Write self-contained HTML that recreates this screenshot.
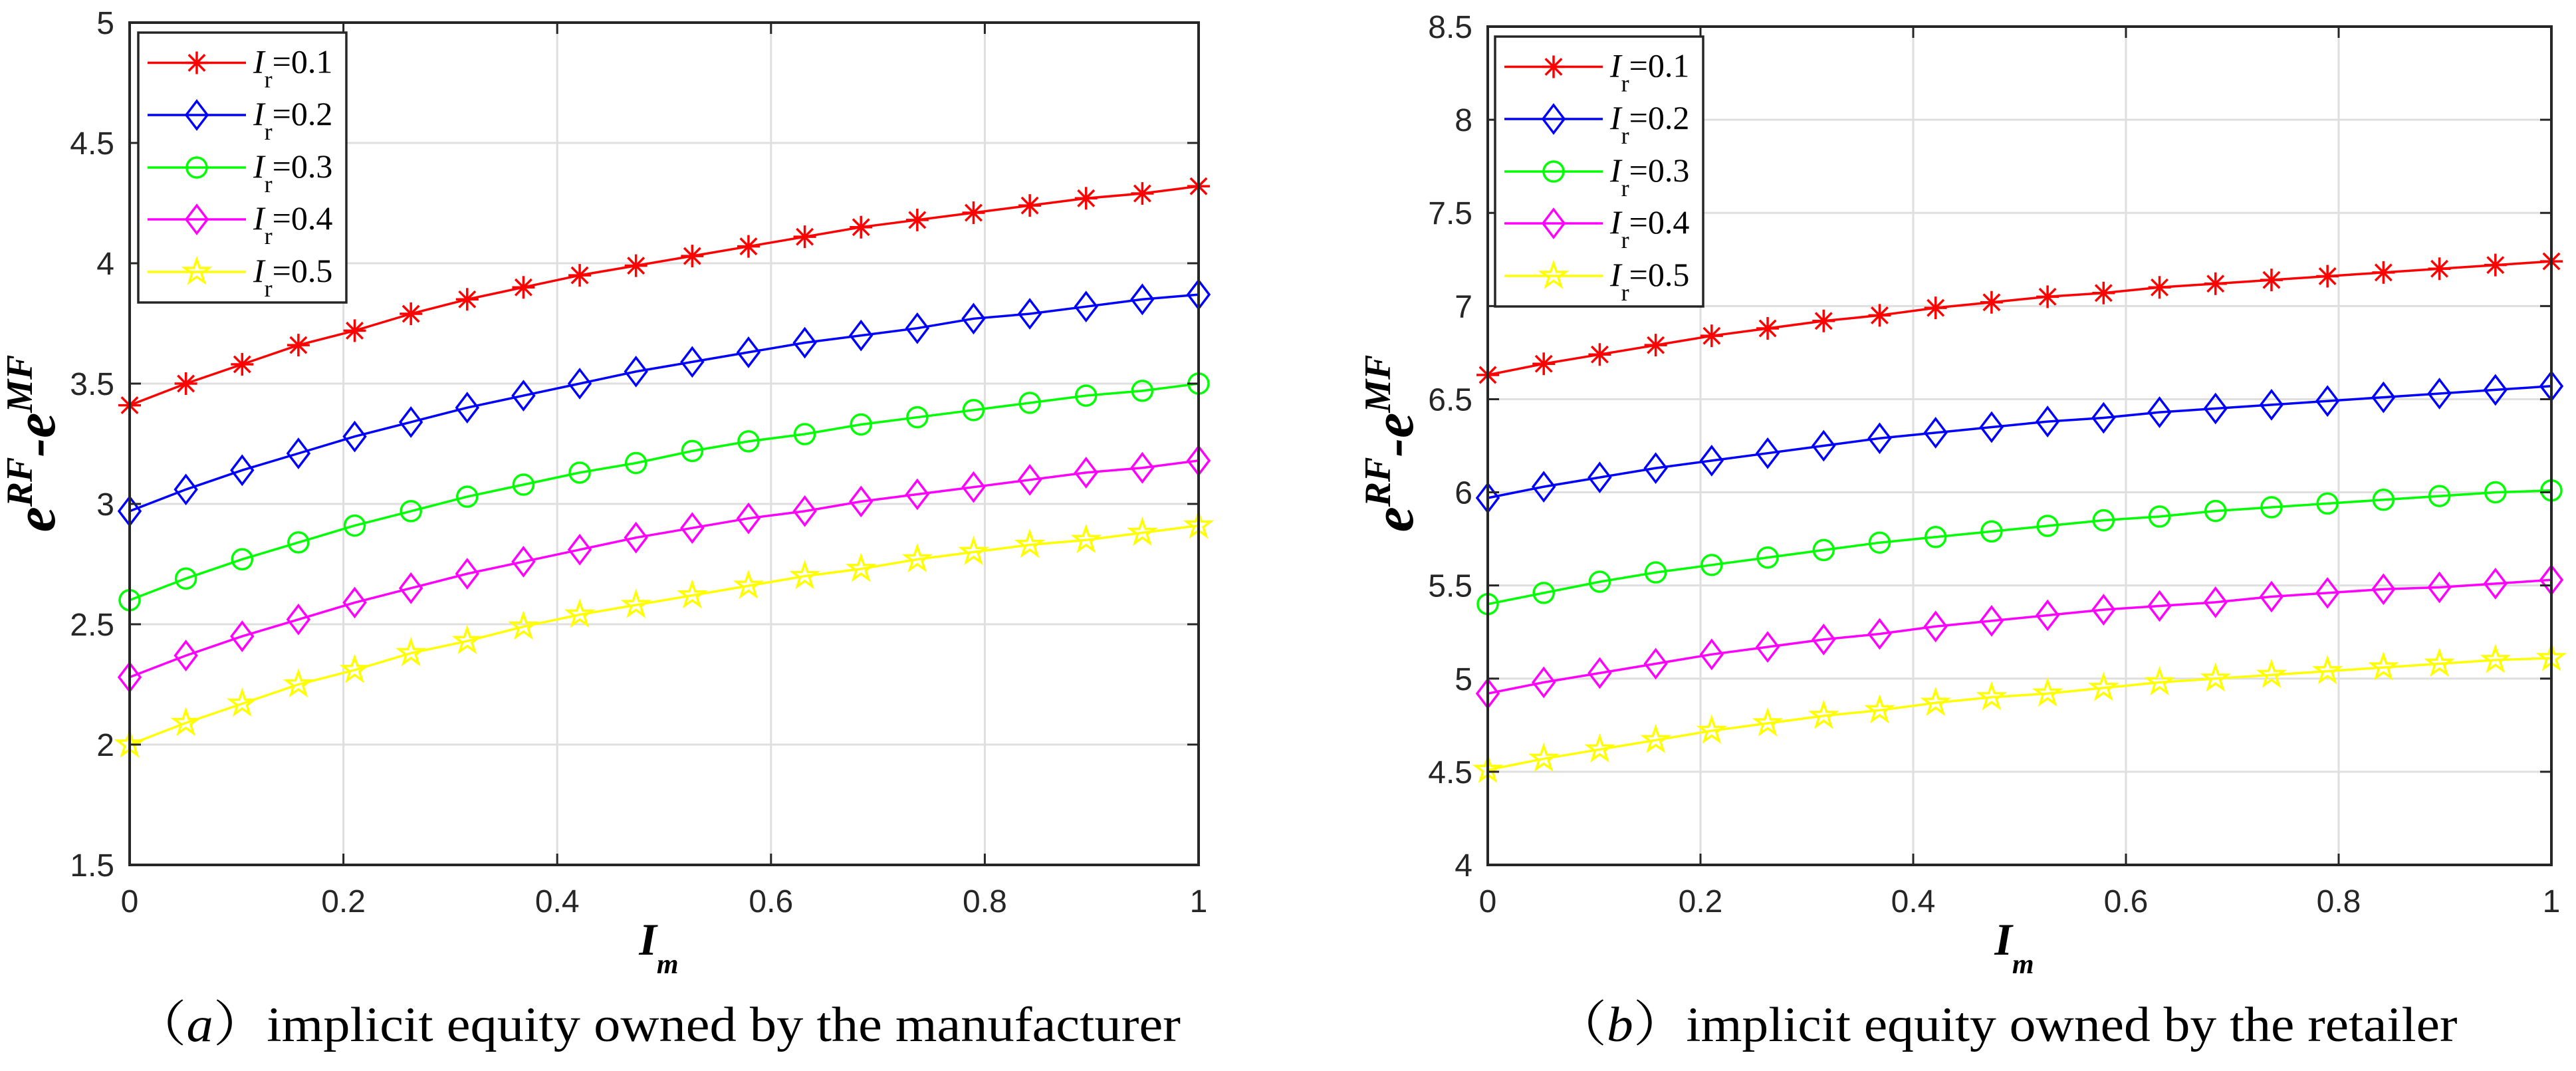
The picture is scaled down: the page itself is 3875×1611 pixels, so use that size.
<!DOCTYPE html>
<html><head><meta charset="utf-8"><style>
html,body{margin:0;padding:0;background:#fff;}
svg{display:block;}
</style></head><body>
<svg id="fig" width="3875" height="1611" viewBox="0 0 3875 1611" xmlns="http://www.w3.org/2000/svg"></svg>
<script>
const xValues = [0,1,2,3,4,5,6,7,8,9,10,11,12,13,14,15,16,17,18,19].map(i=>i/19);
const xTicks = [0,0.2,0.4,0.6,0.8,1];
const xTickLabels = ["0","0.2","0.4","0.6","0.8","1"];
const seriesLabels = ["0.1","0.2","0.3","0.4","0.5"];
const yTicksA = [1.5,2,2.5,3,3.5,4,4.5,5];
const yTickLabelsA = ["1.5","2","2.5","3","3.5","4","4.5","5"];
const yTicksB = [4,4.5,5,5.5,6,6.5,7,7.5,8,8.5];
const yTickLabelsB = ["4","4.5","5","5.5","6","6.5","7","7.5","8","8.5"];
const a_r01 = [3.41,3.50,3.58,3.66,3.72,3.79,3.85,3.90,3.95,3.99,4.03,4.07,4.11,4.15,4.18,4.21,4.24,4.27,4.29,4.32];
const a_r02 = [2.97,3.06,3.14,3.21,3.28,3.34,3.40,3.45,3.50,3.55,3.59,3.63,3.67,3.70,3.73,3.77,3.79,3.82,3.85,3.87];
const a_r03 = [2.60,2.69,2.77,2.84,2.91,2.97,3.03,3.08,3.13,3.17,3.22,3.26,3.29,3.33,3.36,3.39,3.42,3.45,3.47,3.50];
const a_r04 = [2.28,2.37,2.45,2.52,2.59,2.65,2.71,2.76,2.81,2.86,2.90,2.94,2.97,3.01,3.04,3.07,3.10,3.13,3.15,3.18];
const a_r05 = [2.00,2.09,2.17,2.25,2.31,2.38,2.43,2.49,2.54,2.58,2.62,2.66,2.70,2.73,2.77,2.80,2.83,2.85,2.88,2.91];
const b_r01 = [6.63,6.69,6.74,6.79,6.84,6.88,6.92,6.95,6.99,7.02,7.05,7.07,7.10,7.12,7.14,7.16,7.18,7.20,7.22,7.24];
const b_r02 = [5.97,6.03,6.08,6.13,6.17,6.21,6.25,6.29,6.32,6.35,6.38,6.40,6.43,6.45,6.47,6.49,6.51,6.53,6.55,6.57];
const b_r03 = [5.40,5.46,5.52,5.57,5.61,5.65,5.69,5.73,5.76,5.79,5.82,5.85,5.87,5.90,5.92,5.94,5.96,5.98,6.00,6.01];
const b_r04 = [4.92,4.98,5.03,5.08,5.13,5.17,5.21,5.24,5.28,5.31,5.34,5.37,5.39,5.41,5.44,5.46,5.48,5.49,5.51,5.53];
const b_r05 = [4.51,4.57,4.62,4.67,4.72,4.76,4.80,4.83,4.87,4.90,4.92,4.95,4.98,5.00,5.02,5.04,5.06,5.08,5.10,5.11];

const NS="http://www.w3.org/2000/svg";
const svg=document.getElementById('fig');
const colors=["#ff0000","#0000ff","#00ff00","#ff00ff","#ffff00"];
const markers=["asterisk","diamond","circle","diamond","pentagram"];
const dark="#262626";
function el(tag,attrs,parent){const e=document.createElementNS(NS,tag);for(const k in attrs)e.setAttribute(k,attrs[k]);(parent||svg).appendChild(e);return e;}

function marker(g,type,x,y,c){
  let m;
  if(type==="asterisk"){
    const r=17;let d=`M${x-r},${y}L${x+r},${y}M${x},${y-r}L${x},${y+r}`;
    const q=r*0.72;d+=`M${x-q},${y-q}L${x+q},${y+q}M${x-q},${y+q}L${x+q},${y-q}`;
    m=el('path',{d:d,stroke:c,'stroke-width':3.5,fill:'none'},g);
  }else if(type==="diamond"){
    m=el('path',{d:`M${x},${y-21}L${x+16},${y}L${x},${y+21}L${x-16},${y}Z`,stroke:c,'stroke-width':3.5,fill:'none'},g);
  }else if(type==="circle"){
    m=el('circle',{cx:x,cy:y,r:15,stroke:c,'stroke-width':3.5,fill:'none'},g);
  }else{
    let pts=[];for(let i=0;i<10;i++){const a=-Math.PI/2+i*Math.PI/5;const r=i%2?7.5:19;pts.push((x+r*Math.cos(a)).toFixed(1)+','+(y+r*Math.sin(a)).toFixed(1));}
    m=el('polygon',{points:pts.join(' '),stroke:c,'stroke-width':3.5,fill:'none'},g);
  }
  
  
}

function panel(id,L,R,T,B,ymin,ymax,yTicks,yTickLabels,series,leg,caption,capX,capW,ylabX){
  const g=el('g',{});
  
  
  const sx=v=>L+(R-L)*v;
  const sy=v=>B-(B-T)*(v-ymin)/(ymax-ymin);
  xTicks.forEach(t=>{const l=el('line',{x1:sx(t),x2:sx(t),y1:T,y2:B,stroke:'#dfdfdf','stroke-width':3},g);});
  yTicks.forEach(t=>{const l=el('line',{x1:L,x2:R,y1:sy(t),y2:sy(t),stroke:'#dfdfdf','stroke-width':3},g);});
  series.forEach((s,si)=>{
    const sg=el('g',{},g);
    
    
    const pts=s.map((v,i)=>sx(xValues[i]).toFixed(1)+','+sy(v).toFixed(1)).join(' ');
    const pl=el('polyline',{points:pts,stroke:colors[si],'stroke-width':3.5,fill:'none'},sg);
    
    
    s.forEach((v,i)=>marker(sg,markers[si],sx(xValues[i]),sy(v),colors[si]));
  });
  const box=el('rect',{x:L,y:T,width:R-L,height:B-T,fill:'none',stroke:dark,'stroke-width':4},g);
  
  
  xTicks.forEach((t,i)=>{
    el('line',{x1:sx(t),x2:sx(t),y1:B,y2:B-17,stroke:dark,'stroke-width':3},g);
    el('line',{x1:sx(t),x2:sx(t),y1:T,y2:T+17,stroke:dark,'stroke-width':3},g);
    const tx=el('text',{x:sx(t),y:1372,'text-anchor':'middle','font-family':'Liberation Sans, sans-serif','font-size':48,fill:dark},g);
    tx.textContent=xTickLabels[i];
    
    
  });
  yTicks.forEach((t,i)=>{
    el('line',{x1:L,x2:L+17,y1:sy(t),y2:sy(t),stroke:dark,'stroke-width':3},g);
    el('line',{x1:R,x2:R-17,y1:sy(t),y2:sy(t),stroke:dark,'stroke-width':3},g);
    const tx=el('text',{x:L-23,y:sy(t)+17,'text-anchor':'end','font-family':'Liberation Sans, sans-serif','font-size':48,fill:dark},g);
    tx.textContent=yTickLabels[i];
    
    
  });
  const lg=el('g',{},g);
  
  
  el('rect',{x:leg.x,y:leg.y,width:313,height:406,fill:'#fff',stroke:dark,'stroke-width':3.5},lg);
  const offs=[45.5,124,203,281,360];
  seriesLabels.forEach((lab,i)=>{
    const y=leg.y+offs[i];
    const eg=el('g',{},lg);
    
    
    el('line',{x1:leg.x+14,x2:leg.x+162,y1:y,y2:y,stroke:colors[i],'stroke-width':3.5},eg);
    marker(eg,markers[i],leg.x+88,y,colors[i]);
    const t=el('text',{x:leg.x+173,y:y+15,'font-family':'Liberation Serif, serif','font-size':50,fill:'#000'},eg);
    t.innerHTML='<tspan font-style="italic">I</tspan><tspan font-size="36" dy="22">r</tspan><tspan dy="-22">=' + lab + '</tspan>';
  });
  const yl=el('text',{x:ylabX,y:667,transform:`rotate(-90 ${ylabX} 667)`,'text-anchor':'middle','font-family':'Liberation Serif, serif','font-size':86,'font-weight':'bold','font-style':'italic',fill:'#000'},g);
  yl.innerHTML='e<tspan font-size="56" dy="-34">RF</tspan><tspan dy="34">-e</tspan><tspan font-size="56" dy="-34">MF</tspan>';
  
  
  const xl=el('text',{x:(L+R)/2-8,y:1436,'text-anchor':'middle','font-family':'Liberation Serif, serif','font-size':68,'font-weight':'bold','font-style':'italic',fill:'#000'},g);
  xl.innerHTML='I<tspan font-size="42" dy="28">m</tspan>';
  
  
  const cp=el('text',{x:capX,y:1566,'text-anchor':'middle','font-family':'Liberation Serif, "Noto Serif CJK SC", serif','font-size':74,fill:'#000',textLength:capW,lengthAdjust:'spacingAndGlyphs'},g);
  cp.innerHTML=caption;
  
  
}
panel('a',195,1803,34,1301,1.5,5,yTicksA,yTickLabelsA,[a_r01,a_r02,a_r03,a_r04,a_r05],{x:208,y:49},
  '（<tspan font-style="italic">a</tspan>）implicit equity owned by the manufacturer',988,1576,82);
panel('b',2238,3838,40,1301,4,8.5,yTicksB,yTickLabelsB,[b_r01,b_r02,b_r03,b_r04,b_r05],{x:2249,y:55},
  '（<tspan font-style="italic">b</tspan>）implicit equity owned by the retailer',3017,1359,2125);
</script>
</body></html>
